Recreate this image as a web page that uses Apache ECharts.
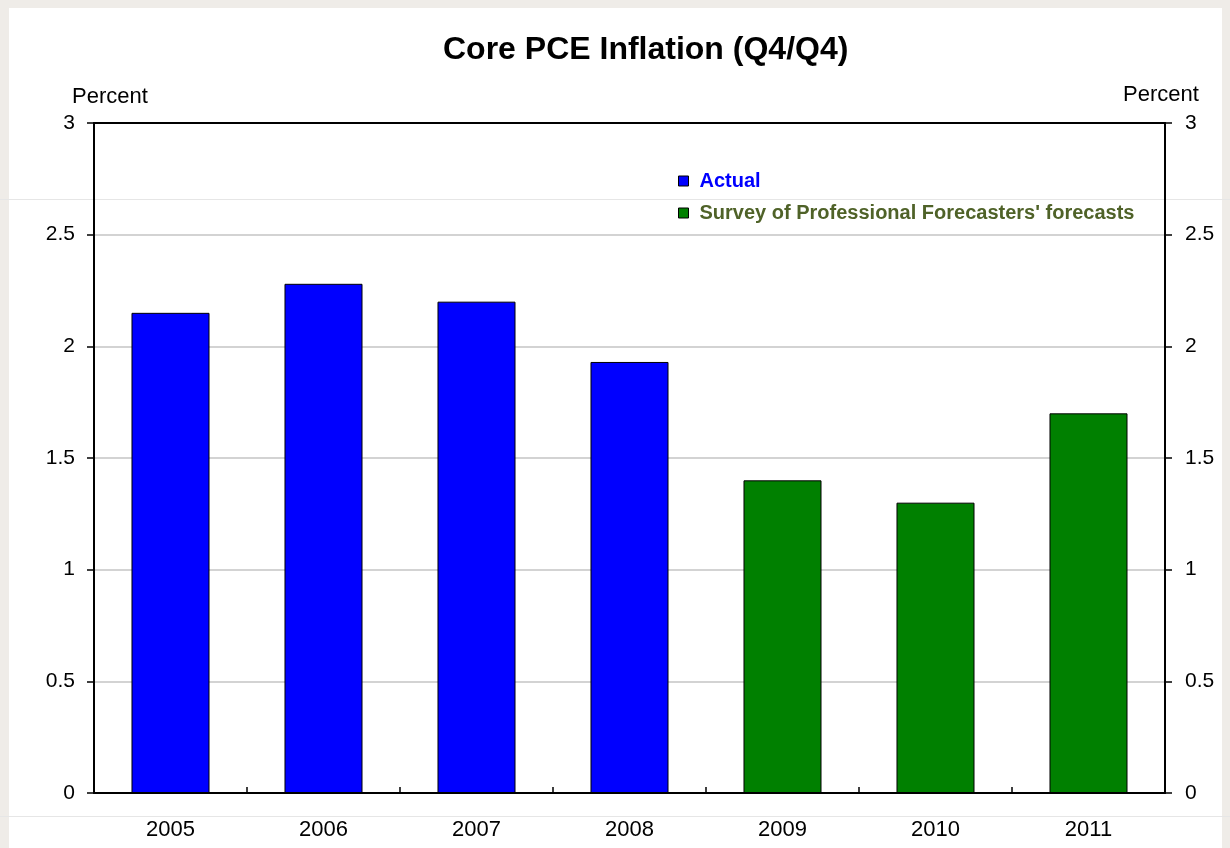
<!DOCTYPE html>
<html>
<head>
<meta charset="utf-8">
<script src="https://cdn.jsdelivr.net/npm/echarts@6/dist/echarts.min.js"></script>
<style>
html, body { margin: 0; padding: 0; background: #efece8; }
.sheet { position: absolute; left: 9px; top: 8px; width: 1213px; height: 840px; background: #fff; }
.seam { position: absolute; left: 0; width: 1230px; height: 1px; background: #e6e6e6; }
#chart { position: absolute; left: 0; top: 0; width: 1230px; height: 848px; }
</style>
</head>
<body>
<div class="sheet"></div>
<div class="seam" style="top:199px"></div>
<div class="seam" style="top:816px"></div>
<div id="chart"></div>
<script>
// data
var years = ['2005', '2006', '2007', '2008', '2009', '2010', '2011'];
var actual = [2.15, 2.28, 2.2, 1.93, '-', '-', '-'];
var forecast = ['-', '-', '-', '-', 1.4, 1.3, 1.7];
var seriesNames = ['Actual', "Survey of Professional Forecasters' forecasts"];

var font = 'Arial, "Liberation Sans", sans-serif';
var chart = echarts.init(document.getElementById('chart'));

var yAxisBase = function (pos, margin) {
  return {
    type: 'value',
    position: pos,
    min: 0,
    max: 3,
    interval: 0.5,
    axisLine: { show: true, lineStyle: { color: '#000', width: 2 } },
    axisTick: { show: true, inside: false, length: 7, lineStyle: { color: '#000', width: 1.5 } },
    axisLabel: { color: '#000', fontSize: 21, fontFamily: font, margin: margin },
    splitLine: {
      show: pos === 'left',
      showMinLine: false,
      showMaxLine: false,
      lineStyle: { color: '#c4c4c4', width: 1.5 }
    }
  };
};

var option = {
  animation: false,
  textStyle: { fontFamily: font },
  title: {
    text: 'Core PCE Inflation (Q4/Q4)',
    left: 438,
    top: 29,
    textStyle: { fontSize: 32, fontWeight: 'bold', color: '#000', fontFamily: font }
  },
  graphic: [
    { type: 'text', left: 72, top: 86, style: { text: 'Percent', fontSize: 22, fontFamily: font, fill: '#000' } },
    { type: 'text', left: 1123, top: 84, style: { text: 'Percent', fontSize: 22, fontFamily: font, fill: '#000' } }
  ],
  legend: {
    orient: 'vertical',
    left: 673,
    top: 166,
    itemWidth: 10,
    itemHeight: 10,
    itemGap: 12,
    icon: 'rect',
    selectedMode: false,
    data: [
      { name: seriesNames[0], textStyle: { color: '#0000ff' } },
      { name: seriesNames[1], textStyle: { color: '#4f6228' } }
    ],
    itemStyle: { borderColor: '#000', borderWidth: 1 },
    textStyle: { fontSize: 20, fontWeight: 'bold', fontFamily: font, lineHeight: 20, padding: [0, 0, 0, 6] }
  },
  grid: { left: 94, right: 65, top: 123, bottom: 55 },
  xAxis: [{
    type: 'category',
    data: years,
    axisLine: { lineStyle: { color: '#000', width: 2 } },
    axisTick: { show: true, inside: true, length: 6, alignWithLabel: false, lineStyle: { color: '#000', width: 1.5 } },
    axisLabel: { color: '#000', fontSize: 22, fontFamily: font, margin: 26 },
    splitLine: { show: false }
  }, {
    type: 'category',
    position: 'top',
    z: 10,
    data: years,
    axisLine: { show: true, onZero: false, lineStyle: { color: '#000', width: 2 } },
    axisTick: { show: false },
    axisLabel: { show: false },
    splitLine: { show: false }
  }],
  yAxis: [yAxisBase('left', 19), yAxisBase('right', 20)],
  series: [{
    name: seriesNames[0],
    type: 'bar',
    stack: 'all',
    barWidth: '51%',
    data: actual,
    itemStyle: { color: '#0000ff', borderColor: '#000', borderWidth: 1 }
  }, {
    name: seriesNames[1],
    type: 'bar',
    stack: 'all',
    barWidth: '51%',
    data: forecast,
    itemStyle: { color: '#008000', borderColor: '#000', borderWidth: 1 }
  }]
};

chart.setOption(option);
</script>
</body>
</html>
